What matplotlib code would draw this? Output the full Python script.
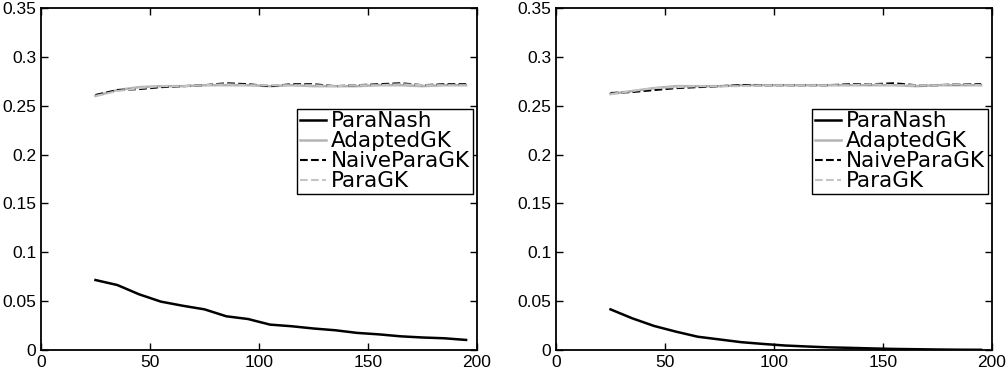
import numpy as np
import matplotlib
matplotlib.use("Agg")
import matplotlib.pyplot as plt

x = [25, 35, 45, 55, 65, 75, 85, 95, 105, 115, 125, 135, 145, 155, 165, 175, 185, 195]

# left panel
paranash_a = [0.0716, 0.0665, 0.057, 0.0495, 0.0453, 0.0416, 0.0345, 0.0317, 0.026, 0.0243,
              0.0220, 0.0202, 0.0175, 0.0160, 0.0140, 0.0128, 0.0120, 0.0103]
adapted_a = [0.260, 0.266, 0.269, 0.270, 0.270, 0.271, 0.271, 0.271, 0.270, 0.271,
             0.270, 0.270, 0.270, 0.271, 0.271, 0.270, 0.271, 0.271]
naive_a = [0.261, 0.266, 0.267, 0.269, 0.270, 0.271, 0.273, 0.272, 0.270, 0.272,
           0.272, 0.270, 0.271, 0.272, 0.273, 0.271, 0.272, 0.272]
paragk_a = [0.260, 0.265, 0.268, 0.270, 0.270, 0.271, 0.272, 0.271, 0.271, 0.271,
            0.271, 0.270, 0.271, 0.271, 0.272, 0.271, 0.271, 0.271]

# right panel
paranash_b = [0.0416, 0.0324, 0.0246, 0.0188, 0.0136, 0.0108, 0.0080, 0.0062, 0.0046, 0.0036,
              0.0027, 0.0022, 0.0016, 0.0011, 0.0008, 0.0005, 0.0003, 0.0002]
adapted_b = [0.262, 0.265, 0.268, 0.270, 0.270, 0.270, 0.271, 0.271, 0.271, 0.271,
             0.271, 0.271, 0.271, 0.271, 0.270, 0.271, 0.271, 0.271]
naive_b = [0.263, 0.264, 0.266, 0.268, 0.269, 0.270, 0.271, 0.271, 0.271, 0.271,
           0.271, 0.272, 0.272, 0.273, 0.271, 0.271, 0.272, 0.272]
paragk_b = [0.262, 0.265, 0.268, 0.269, 0.270, 0.270, 0.270, 0.271, 0.271, 0.271,
            0.271, 0.271, 0.272, 0.271, 0.271, 0.271, 0.272, 0.271]

names = ["ParaNash", "AdaptedGK", "NaiveParaGK", "ParaGK"]
styles = [dict(color="black", ls="-", lw=1.8),
          dict(color="#b4b4b4", ls="-", lw=1.8),
          dict(color="black", ls="--", lw=1.5),
          dict(color="#c4c4c4", ls="--", lw=1.5)]

plt.rcParams["font.family"] = ["Liberation Sans", "DejaVu Sans"]

fig = plt.figure(figsize=(10.06, 3.76), dpi=100)
ax1 = fig.add_axes([41/1006, 1 - 350/376, 436/1006, 342/376])
ax2 = fig.add_axes([556/1006, 1 - 350/376, 436/1006, 342/376])

for ax, series in [(ax1, [paranash_a, adapted_a, naive_a, paragk_a]),
                   (ax2, [paranash_b, adapted_b, naive_b, paragk_b])]:
    for ys, name, st in zip(series, names, styles):
        ax.plot(x, ys, label=name, **st)
    ax.set_xlim(0, 200)
    ax.set_ylim(0, 0.35)
    ax.set_xticks([0, 50, 100, 150, 200])
    ax.set_yticks(np.arange(0, 0.36, 0.05))
    ax.set_yticklabels(["0", "0.05", "0.1", "0.15", "0.2", "0.25", "0.3", "0.35"])
    ax.tick_params(direction="in", top=True, right=True, labelsize=12.5, length=5, width=1)
    for s in ax.spines.values():
        s.set_linewidth(1.3)
    leg = ax.legend(loc="upper right", bbox_to_anchor=(0.99, 0.705), borderaxespad=0,
                    fancybox=False, framealpha=1, edgecolor="black",
                    prop={"family": "DejaVu Sans", "size": 15.5},
                    handlelength=1.2, handletextpad=0.25, labelspacing=0.0,
                    borderpad=0.12)
    leg.get_frame().set_linewidth(1.0)

fig.savefig("out.png", dpi=100)
